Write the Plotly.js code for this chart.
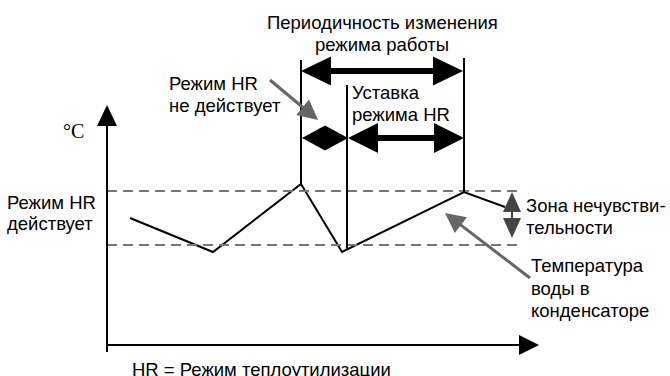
<!DOCTYPE html>
<html>
<head>
<meta charset="utf-8">
<script src="https://cdn.plot.ly/plotly-3.0.1.min.js"></script>
<style>
  html, body { margin: 0; padding: 0; background: #fff; }
  #grafico { width: 670px; height: 376px; }
</style>
</head>
<body>
<div id="grafico"></div>
<script>
// temperatura del agua en el condensador (tiempo, °C en unidades del esquema)
let tiempos = [2.3, 10.6, 19.4, 23.5, 35.7, 39.8];
let tempAgua = [12.7, 9.3, 16.1, 9.3, 15.3, 13.8];

// zona neutra (limites inferior y superior)
let zonaNeutra = [10.0, 15.4];
let finZona = 41.1;

// lineas verticales de cambio de modo
let tCambio = [19.4, 24.0, 35.7];
let cambioArriba = [28.5, 26.0, 28.7];
let cambioAbajo = [16.1, 9.5, 15.3];

let fuente = 'Liberation Sans, Arial, sans-serif';

let grafTemp = {
    x: tiempos,
    y: tempAgua,
    type: 'scatter',
    mode: 'lines',
    line: {color: '#000', width: 2},
    hoverinfo: 'skip'
};

let formas = [];
// zona neutra punteada
zonaNeutra.forEach(function (nivel) {
    formas.push({
        type: 'line', xref: 'x', yref: 'y',
        x0: 0, x1: finZona, y0: nivel, y1: nivel,
        line: {color: '#777', width: 2, dash: '10px,6px'}
    });
});
// verticales
for (let i = 0; i < tCambio.length; i++) {
    formas.push({
        type: 'line', xref: 'x', yref: 'y',
        x0: tCambio[i], x1: tCambio[i], y0: cambioAbajo[i], y1: cambioArriba[i],
        line: {color: '#000', width: 2}
    });
}

// punta triangular: vertice en (tx, ty), d = direccion hacia la punta
function punta(tx, ty, dx, dy, largo, medio, color) {
    let bx = tx - dx * largo, by = ty - dy * largo;
    let px = -dy * medio, py = dx * medio;
    return {
        type: 'path', xref: 'x', yref: 'y',
        path: 'M' + tx + ',' + ty + ' L' + (bx + px) + ',' + (by + py) +
              ' L' + (bx - px) + ',' + (by - py) + ' Z',
        fillcolor: color, line: {width: 0}
    };
}

// flecha de (x0,y0) a (x1,y1); doble = punta tambien en el origen
function flecha(x0, y0, x1, y1, grosor, largo, medio, color, doble) {
    let L = Math.hypot(x1 - x0, y1 - y0);
    let dx = (x1 - x0) / L, dy = (y1 - y0) / L;
    let sx = doble ? x0 + dx * largo * 0.9 : x0;
    let sy = doble ? y0 + dy * largo * 0.9 : y0;
    let ex = x1 - dx * largo * 0.9, ey = y1 - dy * largo * 0.9;
    if (grosor > 0) {
        formas.push({
            type: 'line', xref: 'x', yref: 'y',
            x0: sx, y0: sy, x1: ex, y1: ey,
            line: {color: color, width: grosor}
        });
    }
    formas.push(punta(x1, y1, dx, dy, largo, medio, color));
    if (doble) formas.push(punta(x0, y0, -dx, -dy, largo, medio, color));
}

// ejes
flecha(0, -0.7, 0, 24.0, 2, 2.1, 1.0, '#000', false);
flecha(0, 0, 43.2, 0, 2, 2.0, 1.0, '#000', false);
// periodicidad
flecha(19.4, 27.4, 35.6, 27.4, 6, 3.0, 1.45, '#000', true);
// consigna modo HR
flecha(24.1, 20.7, 35.7, 20.7, 6, 3.0, 1.5, '#000', true);
// modo HR no activo
flecha(19.5, 20.7, 24.1, 20.7, 0, 2.3, 1.25, '#000', true);
// zona neutra
flecha(40.5, 10.7, 40.5, 15.3, 2, 2.0, 0.9, '#444', true);
// flechas grises
flecha(16.3, 26.5, 21.1, 22.5, 3, 2.0, 1.0, '#666', false);
flecha(42.3, 6.7, 33.8, 13.2, 3, 2.0, 1.0, '#666', false);

function texto(lineas, x, y, paso, extra) {
    return lineas.map(function (t, i) {
        let a = {
            text: t, x: x, y: y - i * paso, xref: 'x', yref: 'y',
            xanchor: 'left', yanchor: 'top', align: 'left',
            showarrow: false,
            font: {family: fuente, size: 18.5, color: '#000'}
        };
        return Object.assign(a, extra || {});
    });
}

let anotaciones = [].concat(
    texto(['Периодичность изменения', 'режима работы'], 27.5, 33.5, 2.2, {xanchor: 'center', align: 'center'}),
    texto(['Режим HR', 'не действует'], 6.0, 27.4, 2.15),
    texto(['Уставка', 'режима HR'], 24.3, 26.5, 2.15),
    texto(['Режим HR', 'действует'], -10.2, 15.5, 2.1),
    texto(['Зона нечувстви-', 'тельности'], 41.7, 15.2, 2.2),
    texto(['Температура', 'воды в', 'конденсаторе'], 42.2, 9.2, 2.25),
    texto(['HR = Режим теплоутилизации'], 2.3, -1.2, 0),
    texto(['°C'], -4.6, 22.75, 0, {font: {family: 'Liberation Serif, Times New Roman, serif', size: 20, color: '#000'}})
);

let layout = {
    width: 670,
    height: 376,
    margin: {l: 0, r: 0, t: 0, b: 0},
    paper_bgcolor: '#fff',
    plot_bgcolor: '#fff',
    showlegend: false,
    xaxis: {range: [-10.7, 56.3], visible: false, fixedrange: true},
    yaxis: {range: [-3.1, 34.5], visible: false, fixedrange: true},
    shapes: formas,
    annotations: anotaciones
};

let contenedor = document.getElementById('grafico');
Plotly.newPlot(contenedor, [grafTemp], layout, {displayModeBar: false, staticPlot: true});
</script>
</body>
</html>
